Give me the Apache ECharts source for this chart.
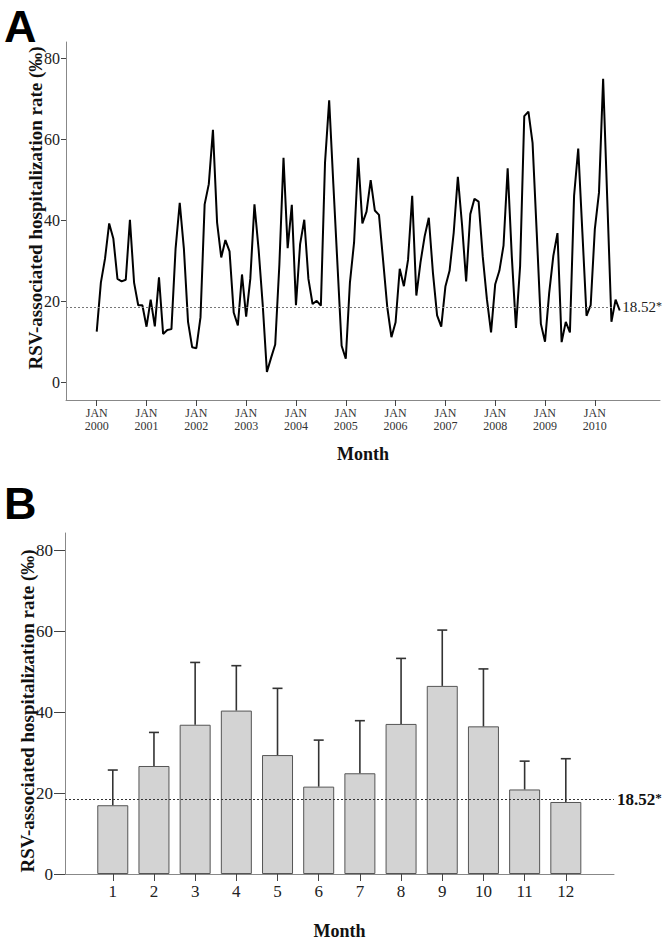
<!DOCTYPE html>
<html>
<head>
<meta charset="utf-8">
<script src="https://cdn.jsdelivr.net/npm/echarts@6/dist/echarts.min.js"></script>
<style>
html,body{margin:0;padding:0;background:#fff;}
#c{width:672px;height:941px;}
</style>
</head>
<body>
<div id="c"></div>
<script>
// ---------- Data ----------
// Panel A: monthly RSV-associated hospitalization rate, Jan 2000 .. Jul 2010 (month index 0..126)
const monthlyRates = [
  12.5, 24.6, 30.5, 39.2, 35.5, 25.5, 24.9, 25.3, 40.1, 24.6, 19.0, 19.0,   // 2000
  13.7, 20.4, 13.8, 25.9, 11.9, 12.9, 13.1, 33.0, 44.3, 33.0, 14.9, 8.6,    // 2001
  8.4, 16.0, 43.9, 48.9, 62.3, 39.4, 30.8, 35.1, 32.3, 17.2, 14.0, 26.6,    // 2002
  16.2, 25.5, 43.9, 32.8, 19.0, 2.5, 6.0, 9.3, 29.0, 55.4, 33.1, 43.8,      // 2003
  19.0, 34.1, 40.1, 25.5, 19.3, 20.1, 18.9, 54.2, 69.6, 49.0, 29.0, 9.0,    // 2004
  5.8, 24.6, 34.5, 55.4, 39.2, 42.1, 49.9, 42.4, 41.3, 30.0, 18.5, 11.1,    // 2005
  14.8, 28.0, 23.7, 30.2, 46.0, 21.4, 29.6, 36.0, 40.6, 27.0, 16.5, 13.7,   // 2006
  23.6, 27.5, 36.9, 50.7, 39.0, 24.9, 41.5, 45.3, 44.6, 31.0, 20.5, 12.3,   // 2007
  24.2, 27.5, 33.7, 52.8, 31.0, 13.4, 28.7, 65.7, 66.8, 59.1, 37.0, 14.4,   // 2008
  10.0, 22.0, 31.2, 36.8, 9.9, 14.9, 12.3, 46.0, 57.7, 37.0, 16.4, 19.0,    // 2009
  37.8, 46.8, 74.9, 45.0, 14.9, 20.4, 17.7                                   // 2010
];
const yearTickMonths = [0, 12, 24, 36, 48, 60, 72, 84, 96, 108, 120];
const yearTickLabels = ['JAN\n2000','JAN\n2001','JAN\n2002','JAN\n2003','JAN\n2004','JAN\n2005','JAN\n2006','JAN\n2007','JAN\n2008','JAN\n2009','JAN\n2010'];
const rateTicks = [0, 20, 40, 60, 80];
const thresholdRate = 18.52;
const thresholdLabel = '18.52';

// Panel B: mean rate by calendar month with upper error bar
const calendarMonths = [1, 2, 3, 4, 5, 6, 7, 8, 9, 10, 11, 12];
const monthMeans = [17.0, 26.7, 36.9, 40.4, 29.4, 21.6, 24.9, 37.1, 46.5, 36.5, 20.9, 17.8];
const monthUpper = [25.7, 35.0, 52.3, 51.5, 45.9, 33.1, 37.9, 53.3, 60.3, 50.7, 27.9, 28.5];

// ---------- Chart ----------
const serif = 'Liberation Serif';
const chart = echarts.init(document.getElementById('c'), null, {renderer: 'svg'});

const lineData = monthlyRates.map((v, i) => [i, v]);
const barData = calendarMonths.map((m, i) => [m, monthMeans[i]]);
const errData = calendarMonths.map((m, i) => [m, monthMeans[i], monthUpper[i]]);

const yTitle = 'RSV-associated hospitalization rate (\u2030)';
const titleFont = 'bold 19px Liberation Serif';

const option = {
  animation: false,
  backgroundColor: '#fff',
  graphic: [
    {type: 'text', left: 4, top: 4, style: {text: 'A', font: 'bold 45px Liberation Sans', fill: '#000'}},
    {type: 'text', left: 4, top: 481, style: {text: 'B', font: 'bold 45px Liberation Sans', fill: '#000'}},
    {type: 'text', x: 35, y: 208, rotation: Math.PI / 2,
      style: {text: yTitle, font: titleFont, fill: '#111', align: 'center', verticalAlign: 'middle'}},
    {type: 'text', x: 27, y: 711, rotation: Math.PI / 2,
      style: {text: yTitle, font: titleFont, fill: '#111', align: 'center', verticalAlign: 'middle'}}
  ],
  grid: [
    {left: 66, right: 12, top: 42, height: 358},
    {left: 65, right: 58, top: 533, height: 349}
  ],
  xAxis: [
    {
      gridIndex: 0, type: 'value', min: -7.4, max: 135.7,
      axisLine: {show: true, onZero: false, lineStyle: {color: '#888', width: 1}},
      axisTick: {show: true, customValues: yearTickMonths, length: 6, lineStyle: {color: '#444'}},
      axisLabel: {show: true, customValues: yearTickMonths, margin: 6,
        formatter: v => yearTickLabels[yearTickMonths.indexOf(v)],
        fontFamily: serif, fontSize: 12, lineHeight: 13, color: '#333'},
      splitLine: {show: false},
      name: 'Month', nameLocation: 'middle', nameGap: 45,
      nameTextStyle: {fontFamily: serif, fontSize: 18, fontWeight: 'bold', color: '#111'}
    },
    {
      gridIndex: 1, type: 'value', min: -0.16, max: 13.17,
      axisLine: {show: true, onZero: false, lineStyle: {color: '#888', width: 1}},
      axisTick: {show: true, customValues: calendarMonths, length: 7, lineStyle: {color: '#444'}},
      axisLabel: {show: true, customValues: calendarMonths, margin: 9,
        fontFamily: serif, fontSize: 17, color: '#222'},
      splitLine: {show: false},
      name: 'Month', nameLocation: 'middle', nameGap: 48,
      nameTextStyle: {fontFamily: serif, fontSize: 18, fontWeight: 'bold', color: '#111'}
    }
  ],
  yAxis: [
    {
      gridIndex: 0, type: 'value', min: -4.4, max: 84,
      axisLine: {show: true, onZero: false, lineStyle: {color: '#888', width: 1}},
      axisTick: {show: true, customValues: rateTicks, length: 5, lineStyle: {color: '#444'}},
      axisLabel: {show: true, customValues: rateTicks, margin: 6,
        fontFamily: serif, fontSize: 16, color: '#222'},
      splitLine: {show: false}
    },
    {
      gridIndex: 1, type: 'value', min: 0, max: 84.3,
      axisLine: {show: true, onZero: false, lineStyle: {color: '#888', width: 1}},
      axisTick: {show: true, customValues: rateTicks, length: 11, lineStyle: {color: '#444'}},
      axisLabel: {show: true, customValues: rateTicks, margin: 12,
        fontFamily: serif, fontSize: 17, color: '#222'},
      splitLine: {show: false}
    }
  ],
  series: [
    {
      type: 'line', xAxisIndex: 0, yAxisIndex: 0, data: lineData,
      showSymbol: false, symbol: 'none',
      lineStyle: {color: '#000', width: 2}, z: 3,
      markLine: {
        silent: true, symbol: 'none',
        lineStyle: {type: [2, 2], color: '#777', width: 1},
        label: {show: true, position: 'end', distance: 10,
          formatter: '{a|' + thresholdLabel + '}{s|*}',
          rich: {a: {fontFamily: serif, fontSize: 15, color: '#222'},
                 s: {fontFamily: serif, fontSize: 12, color: '#222', verticalAlign: 'top'}}},
        data: [[{coord: [-7.4, thresholdRate]}, {coord: [124.2, thresholdRate]}]]
      }
    },
    {
      type: 'bar', xAxisIndex: 1, yAxisIndex: 1, data: barData,
      barWidth: 31,
      itemStyle: {color: '#d3d3d3', borderColor: '#555', borderWidth: 1},
      z: 2,
      markLine: {
        silent: true, symbol: 'none',
        lineStyle: {type: [2, 2], color: '#333', width: 1},
        label: {show: true, position: 'end', distance: 3,
          formatter: '{a|' + thresholdLabel + '}{s|*}',
          rich: {a: {fontFamily: serif, fontSize: 17, fontWeight: 'bold', color: '#111'},
                 s: {fontFamily: serif, fontSize: 13, fontWeight: 'bold', color: '#111', verticalAlign: 'top'}}},
        data: [{yAxis: thresholdRate}]
      }
    },
    {
      type: 'custom', xAxisIndex: 1, yAxisIndex: 1, data: errData, z: 4,
      renderItem: function (params, api) {
        const x = api.value(0);
        const lo = api.coord([x, api.value(1)]);
        const hi = api.coord([x, api.value(2)]);
        const cap = 5;
        const st = {stroke: '#333', lineWidth: 1.6};
        return {type: 'group', children: [
          {type: 'line', shape: {x1: lo[0], y1: lo[1], x2: hi[0], y2: hi[1]}, style: st},
          {type: 'line', shape: {x1: hi[0] - cap, y1: hi[1], x2: hi[0] + cap, y2: hi[1]}, style: st}
        ]};
      }
    }
  ]
};
chart.setOption(option);
</script>
</body>
</html>
